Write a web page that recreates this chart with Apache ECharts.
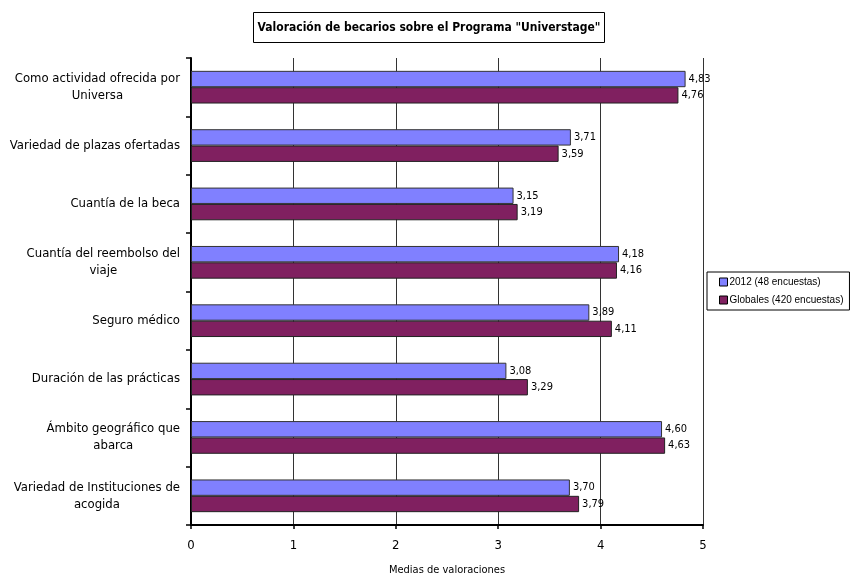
<!DOCTYPE html>
<html>
<head>
<meta charset="utf-8">
<script src="https://cdn.jsdelivr.net/npm/echarts@6/dist/echarts.min.js"></script>
<style>html,body{margin:0;padding:0;background:#fff}#c{width:858px;height:581px}</style>
</head>
<body>
<div id="c"></div>
<script>
const categories = [
  "Como actividad ofrecida por\nUniversa",
  "Variedad de plazas ofertadas",
  "Cuantía de la beca",
  "Cuantía del reembolso del\nviaje",
  "Seguro médico",
  "Duración de las prácticas",
  "Ámbito geográfico que\nabarca",
  "Variedad de Instituciones de\nacogida"
];
const series2012 = [4.83, 3.71, 3.15, 4.18, 3.89, 3.08, 4.60, 3.70];
const seriesGlobal = [4.76, 3.59, 3.19, 4.16, 4.11, 3.29, 4.63, 3.79];
const seriesNames = ["2012 (48 encuestas)", "Globales (420 encuestas)"];
const xTicks = [0, 1, 2, 3, 4, 5];

const FONT = '"Liberation Sans Narrow", "Arial Narrow", "DejaVu Sans Condensed", sans-serif';
const chart = echarts.init(document.getElementById('c'), null, {renderer: 'canvas'});

const labelFmt = p => p.value.toFixed(2).replace('.', ',');

chart.setOption({
  animation: false,
  backgroundColor: '#fff',
  title: {
    text: 'Valoración de becarios sobre el Programa "Universtage"',
    left: 'center',
    top: 12,
    padding: [10, 4, 9, 4],
    borderColor: '#000',
    borderWidth: 1,
    textStyle: {fontFamily: FONT, fontSize: 12, fontWeight: 'bold', color: '#000'}
  },
  legend: {
    orient: 'vertical',
    left: 707,
    top: 272,
    padding: [5, 6, 5, 12],
    itemWidth: 8,
    itemHeight: 8,
    itemGap: 8,
    icon: 'rect',
    borderColor: '#000',
    borderWidth: 1,
    textStyle: {fontFamily: '"Liberation Sans", Arial, sans-serif', fontSize: 10, color: '#000', padding: [0, 0, 0, -3]},
    data: seriesNames.map(n => ({name: n, itemStyle: {borderColor: '#000', borderWidth: 1}}))
  },
  grid: {left: 191, top: 58, width: 512, height: 473, containLabel: false},
  xAxis: {
    type: 'value',
    min: xTicks[0],
    max: xTicks[xTicks.length - 1],
    interval: 1,
    name: 'Medias de valoraciones',
    nameLocation: 'middle',
    nameGap: 40,
    nameTextStyle: {fontFamily: FONT, fontSize: 11, color: '#000'},
    axisLine: {show: true, lineStyle: {color: '#000', width: 2}},
    axisTick: {show: true, length: 4, lineStyle: {color: '#000', width: 1.5}},
    axisLabel: {fontFamily: FONT, fontSize: 13, color: '#000', margin: 14},
    splitLine: {show: true, lineStyle: {color: '#333', width: 1}}
  },
  yAxis: {
    type: 'category',
    inverse: true,
    data: categories,
    axisLine: {show: true, lineStyle: {color: '#000', width: 2}},
    axisTick: {show: true, length: 5, lineStyle: {color: '#000', width: 1.5}},
    axisLabel: {
      margin: 11,
      fontFamily: FONT,
      fontSize: 13,
      color: '#000',
      lineHeight: 17,
      formatter: v => v.split('\n').map(l => '{c|' + l + '}').join('\n'),
      rich: {c: {align: 'center', fontFamily: FONT, fontSize: 13, color: '#000', lineHeight: 17}}
    },
    splitLine: {show: false}
  },
  series: [
    {
      name: seriesNames[0],
      type: 'bar',
      data: series2012,
      barGap: '0%',
      barCategoryGap: '44%',
      itemStyle: {color: '#8080FF', borderColor: '#333', borderWidth: 1},
      label: {show: true, position: 'right', distance: 3, formatter: labelFmt,
        fontFamily: FONT, fontSize: 11, color: '#000'}
    },
    {
      name: seriesNames[1],
      type: 'bar',
      data: seriesGlobal,
      itemStyle: {color: '#802060', borderColor: '#222', borderWidth: 1},
      label: {show: true, position: 'right', distance: 3, formatter: labelFmt,
        fontFamily: FONT, fontSize: 11, color: '#000'}
    }
  ]
});
</script>
</body>
</html>
